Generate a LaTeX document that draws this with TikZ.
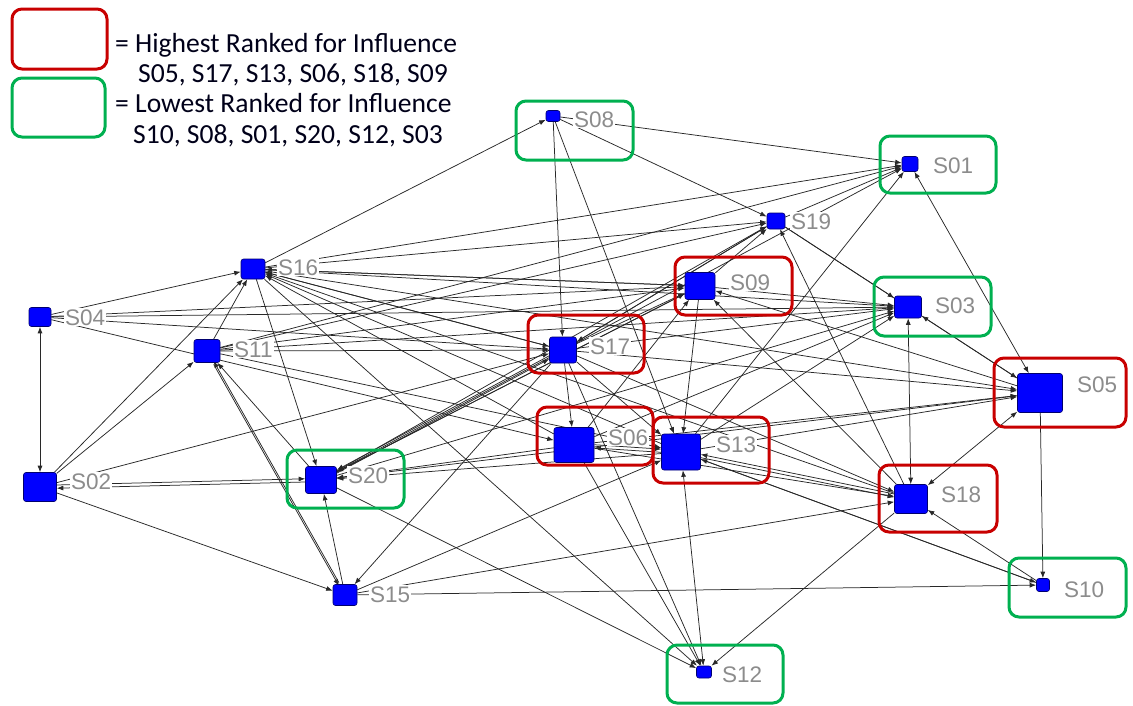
\documentclass[tikz,border=0pt]{standalone}
\usepackage{fontspec}
\usetikzlibrary{arrows.meta}
\newfontfamily\legfont{Carlito}
\newfontfamily\labfont{Liberation Sans}
\definecolor{hired}{RGB}{200,0,0}
\definecolor{logreen}{RGB}{0,176,80}
\definecolor{nodeblue}{RGB}{0,0,255}
\definecolor{nodeedge}{RGB}{0,0,110}
\definecolor{labgray}{RGB}{140,140,140}
\definecolor{edgecol}{RGB}{40,40,40}
\pgfdeclarelayer{bg}
\pgfsetlayers{bg,main}
\tikzset{
  nd/.style={draw=nodeedge, fill=nodeblue, rounded corners=2.5pt, inner sep=0pt, line width=0.6pt},
  lbl/.style={text=labgray, font=\labfont\fontsize{22.5}{22.5}\selectfont, anchor=base west, inner sep=1pt, fill=white},
  lnk/.style={draw=edgecol, line width=0.75pt, -{Latex[length=6.5pt,width=5pt]}},
  lnkb/.style={draw=edgecol, line width=0.75pt, {Latex[length=6.5pt,width=5pt]}-{Latex[length=6.5pt,width=5pt]}},
  up/.style={transform canvas={yshift=1.6pt}},
  dn/.style={transform canvas={yshift=-1.6pt}},
  hibox/.style={draw=hired, line width=3pt, rounded corners=10pt},
  lobox/.style={draw=logreen, line width=3pt, rounded corners=10pt},
  legtxt/.style={font=\legfont\fontsize{27.6}{30}\selectfont, anchor=base west, inner sep=0pt, text=black!90!blue},
}
\begin{document}
\begin{tikzpicture}[x=1pt,y=-1pt]
\useasboundingbox (0,0) rectangle (1133,705);
% nodes
\node[nd, minimum width=14pt, minimum height=11pt] (S08) at (553,116) {};
\node[nd, minimum width=16pt, minimum height=15pt] (S01) at (910,164) {};
\node[nd, minimum width=18pt, minimum height=16pt] (S19) at (776,221) {};
\node[nd, minimum width=24pt, minimum height=20pt] (S16) at (253,269) {};
\node[nd, minimum width=30pt, minimum height=27pt] (S09) at (700,286) {};
\node[nd, minimum width=27pt, minimum height=22pt] (S03) at (908,307) {};
\node[nd, minimum width=22pt, minimum height=19pt] (S04) at (40,317) {};
\node[nd, minimum width=26pt, minimum height=23pt] (S11) at (207,351) {};
\node[nd, minimum width=27pt, minimum height=26pt] (S17) at (563,350) {};
\node[nd, minimum width=45pt, minimum height=39pt] (S05) at (1040,393) {};
\node[nd, minimum width=40pt, minimum height=35pt] (S06) at (574,445) {};
\node[nd, minimum width=39pt, minimum height=36pt] (S13) at (681,452) {};
\node[nd, minimum width=33pt, minimum height=29pt] (S02) at (40,487) {};
\node[nd, minimum width=31pt, minimum height=27pt] (S20) at (321,480) {};
\node[nd, minimum width=33pt, minimum height=29pt] (S18) at (911,499) {};
\node[nd, minimum width=24pt, minimum height=21pt] (S15) at (345,595) {};
\node[nd, minimum width=13pt, minimum height=13pt] (S10) at (1043,585) {};
\node[nd, minimum width=15pt, minimum height=12pt] (S12) at (704,672) {};
% edges
\begin{pgfonlayer}{bg}
\draw[lnkb] (S04) -- (S02);
\draw[lnk] (S04) -- (S16);
\draw[lnk] (S04) -- (S17);
\draw[lnk] (S04) -- (S09);
\draw[lnk] (S04) -- (S06);
\draw[lnk] (S04) -- (S03);
\draw[lnk] (S02) -- (S16);
\draw[lnk] (S02) -- (S11);
\draw[lnk, up] (S02) -- (S20);
\draw[lnk, dn] (S20) -- (S02);
\draw[lnk] (S02) -- (S15);
\draw[lnk] (S02) -- (S17);
\draw[lnk] (S11) -- (S16);
\draw[lnk] (S20) -- (S11);
\draw[lnk, up] (S15) -- (S11);
\draw[lnk, dn] (S11) -- (S15);
\draw[lnk] (S11) -- (S19);
\draw[lnk] (S11) -- (S01);
\draw[lnk] (S11) -- (S17);
\draw[lnk] (S11) -- (S13);
\draw[lnk] (S11) -- (S09);
\draw[lnk] (S11) -- (S03);
\draw[lnk] (S16) -- (S19);
\draw[lnk] (S16) -- (S01);
\draw[lnk] (S16) -- (S09);
\draw[lnk] (S16) -- (S17);
\draw[lnk] (S16) -- (S08);
\draw[lnk] (S16) -- (S20);
\draw[lnk] (S16) -- (S12);
\draw[lnk] (S16) -- (S03);
\draw[lnk] (S16) -- (S05);
\draw[lnk] (S06) -- (S16);
\draw[lnk] (S13) -- (S16);
\draw[lnk] (S18) -- (S16);
\draw[lnk] (S17) -- (S16);
\draw[lnk] (S08) -- (S17);
\draw[lnk] (S08) -- (S13);
\draw[lnk] (S08) -- (S01);
\draw[lnk] (S08) -- (S19);
\draw[lnk] (S17) -- (S06);
\draw[lnk] (S17) -- (S13);
\draw[lnk, up] (S17) -- (S20);
\draw[lnk, dn] (S20) -- (S17);
\draw[lnk] (S17) -- (S19);
\draw[lnk] (S17) -- (S09);
\draw[lnk] (S17) -- (S03);
\draw[lnk] (S17) -- (S05);
\draw[lnk] (S17) -- (S12);
\draw[lnk] (S17) -- (S15);
\draw[lnk] (S17) -- (S18);
\draw[lnk] (S09) -- (S13);
\draw[lnk] (S09) -- (S03);
\draw[lnk] (S09) -- (S20);
\draw[lnk] (S09) -- (S19);
\draw[lnk] (S09) -- (S16);
\draw[lnk] (S05) -- (S09);
\draw[lnk] (S18) -- (S09);
\draw[lnk] (S06) -- (S09);
\draw[lnk] (S19) -- (S01);
\draw[lnk] (S19) -- (S03);
\draw[lnk] (S19) -- (S17);
\draw[lnk] (S18) -- (S19);
\draw[lnk] (S19) -- (S05);
\draw[lnk] (S20) -- (S19);
\draw[lnk] (S20) -- (S01);
\draw[lnk] (S20) -- (S09);
\draw[lnk] (S20) -- (S05);
\draw[lnkb] (S01) -- (S05);
\draw[lnk] (S13) -- (S01);
\draw[lnk] (S05) -- (S03);
\draw[lnkb] (S18) -- (S03);
\draw[lnk] (S20) -- (S03);
\draw[lnk] (S06) -- (S03);
\draw[lnk] (S13) -- (S03);
\draw[lnk, up] (S06) -- (S13);
\draw[lnk, dn] (S13) -- (S06);
\draw[lnk] (S06) -- (S20);
\draw[lnk] (S06) -- (S12);
\draw[lnk] (S06) -- (S05);
\draw[lnkb] (S13) -- (S12);
\draw[lnk] (S13) -- (S05);
\draw[lnk] (S13) -- (S20);
\draw[lnk] (S13) -- (S10);
\draw[lnk, up] (S18) -- (S13);
\draw[lnk, dn] (S13) -- (S18);
\draw[lnk] (S06) -- (S18);
\draw[lnkb] (S05) -- (S18);
\draw[lnk] (S05) -- (S10);
\draw[lnk] (S10) -- (S18);
\draw[lnk] (S10) -- (S13);
\draw[lnk] (S15) -- (S20);
\draw[lnk] (S15) -- (S13);
\draw[lnk] (S15) -- (S18);
\draw[lnk] (S15) -- (S10);
\draw[lnk] (S20) -- (S12);
\draw[lnk] (S18) -- (S12);
\end{pgfonlayer}
% labels
\node[lbl] (L08) at (573,127) {S08};
\node[lbl] (L01) at (932,173) {S01};
\node[lbl] (L19) at (790,229) {S19};
\node[lbl] (L16) at (277,275) {S16};
\node[lbl] (L09) at (729,290) {S09};
\node[lbl] (L03) at (934,313) {S03};
\node[lbl] (L04) at (64,325) {S04};
\node[lbl] (L11) at (233,357) {S11};
\node[lbl] (L17) at (589,354) {S17};
\node[lbl] (L05) at (1076,392) {S05};
\node[lbl] (L06) at (607,445) {S06};
\node[lbl] (L13) at (715,452) {S13};
\node[lbl] (L02) at (70,489) {S02};
\node[lbl] (L20) at (347,483) {S20};
\node[lbl] (L18) at (940,502) {S18};
\node[lbl] (L15) at (369,602) {S15};
\node[lbl] (L10) at (1063,597) {S10};
\node[lbl] (L12) at (721,682) {S12};
% highlight boxes
\draw[hibox] (12,9) rectangle (107,69);
\draw[lobox] (12,78) rectangle (105,137);
\draw[lobox] (516,101) rectangle (633,160);
\draw[lobox] (880,136) rectangle (996,193);
\draw[hibox] (675,257) rectangle (792,315);
\draw[lobox] (874,277) rectangle (991,336);
\draw[hibox] (528,315) rectangle (644,373);
\draw[hibox] (994,358) rectangle (1126,427);
\draw[hibox] (537,407) rectangle (653,465);
\draw[hibox] (653,417) rectangle (769,483);
\draw[lobox] (287,450) rectangle (404,508);
\draw[hibox] (879,465) rectangle (997,532);
\draw[lobox] (1009,558) rectangle (1126,617);
\draw[lobox] (667,645) rectangle (783,703);
% legend text
\node[legtxt] (T1) at (115,52) {= Highest Ranked for Influence};
\node[legtxt] (T2) at (138,82) {S05, S17, S13, S06, S18, S09};
\node[legtxt] (T3) at (115,112) {= Lowest Ranked for Influence};
\node[legtxt] (T4) at (133,143) {S10, S08, S01, S20, S12, S03};
\end{tikzpicture}
\end{document}
